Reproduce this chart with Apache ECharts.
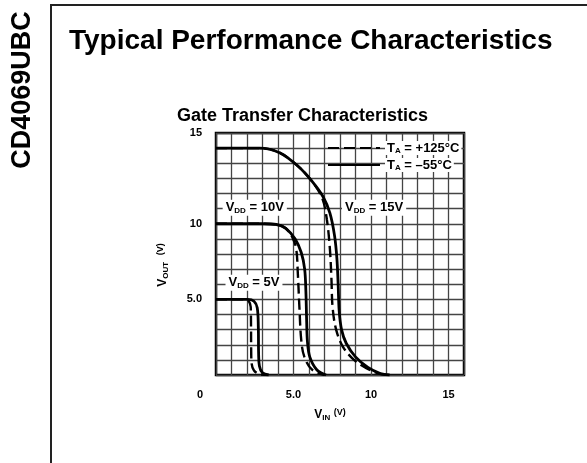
<!DOCTYPE html>
<html><head><meta charset="utf-8">
<script src="https://cdn.jsdelivr.net/npm/echarts@6.0.0/dist/echarts.min.js"></script>
<style>html,body{margin:0;background:#fff}#c{width:587px;height:463px}</style>
</head><body><div id="c"></div>
<script>
// [V_IN, V_OUT]
const vdd5Hot = [[0, 5], [1.9, 5], [2.12, 4.88], [2.24, 4.5], [2.26, 3.2], [2.27, 1.6], [2.3, 0.75], [2.45, 0.3], [2.8, 0.06], [3.3, 0]]
const vdd5Cold = [[0, 5], [2.05, 5], [2.45, 4.88], [2.66, 4.45], [2.73, 3.2], [2.75, 1.4], [2.8, 0.6], [3.0, 0.15], [3.4, 0]]
const vdd10Hot = [[0, 10], [3.0, 10], [3.9, 9.95], [4.5, 9.7], [4.95, 9.05], [5.18, 8.3], [5.28, 6.7], [5.38, 4.5], [5.5, 2.3], [5.7, 1.2], [6.2, 0.35], [7.0, 0]]
const vdd10Cold = [[0, 10], [3.0, 10], [3.9, 9.95], [4.5, 9.7], [5.1, 9.0], [5.5, 8.1], [5.72, 7.0], [5.8, 5.5], [5.85, 3.5], [5.9, 2.2], [6.05, 1.2], [6.5, 0.35], [7.1, 0]]
const vdd15Hot = [[0, 15], [2.8, 15], [4.1, 14.7], [5.3, 13.8], [6.2, 12.8], [6.85, 11.7], [7.15, 10.3], [7.35, 8.3], [7.45, 6.3], [7.52, 4.5], [7.75, 3.0], [8.2, 1.85], [8.9, 1.0], [9.7, 0.45], [10.5, 0.1], [11.1, 0]]
const vdd15Cold = [[0, 15], [2.8, 15], [4.1, 14.7], [5.3, 13.8], [6.2, 12.8], [6.9, 11.8], [7.35, 10.7], [7.65, 9.2], [7.8, 7.7], [7.88, 6.0], [7.95, 4.2], [8.1, 3.0], [8.4, 2.1], [9.0, 1.2], [9.8, 0.5], [10.6, 0.1], [11.2, 0]]
const vddTags = [['V{s|DD} = 5V', 2.45, 6.1], ['V{s|DD} = 10V', 2.5, 11.05], ['V{s|DD} = 15V', 10.2, 11.05]]
const HOT = 'T{s|A} = +125°C', COLD = 'T{s|A} = –55°C'

const SANS = '"Liberation Sans", Arial, sans-serif'
const NARROW = '"Liberation Sans Narrow", "Liberation Sans", Arial, sans-serif'
const sub = { fontSize: 8, fontWeight: 'bold', fontFamily: NARROW, padding: [6, 0, 0, 0] }
const txt = { fontSize: 13, fontWeight: 'bold', fontFamily: NARROW, color: '#000' }

const curve = (name, data, dashed) => ({
  name, type: 'line', data, symbol: 'none', smooth: 0.35, silent: true,
  lineStyle: { color: '#000', width: dashed ? 2.4 : 2.8, type: dashed ? [11, 5] : 'solid' },
  itemStyle: { color: '#000' }, z: dashed ? 2 : 3,
})

const labels = curve(COLD, [], false)
labels.markPoint = {
  symbolSize: 0, silent: true,
  data: vddTags.map(([t, x, y]) => ({
    coord: [x, y],
    label: { show: true, position: 'inside', formatter: t, ...txt, backgroundColor: '#fff', padding: [1, 3], rich: { s: sub } },
  })),
}

const chart = echarts.init(document.getElementById('c'), null, { renderer: 'canvas' })
chart.setOption({
  animation: false,
  backgroundColor: '#fff',
  title: [
    { text: 'Typical Performance Characteristics', left: 64, top: 22, textStyle: { fontSize: 28, fontWeight: 'bold', fontFamily: SANS, color: '#000' } },
    { text: 'Gate Transfer Characteristics', left: 172, top: 102, textStyle: { fontSize: 18, fontWeight: 'bold', fontFamily: SANS, color: '#000' } },
  ],
  graphic: [
    { type: 'polyline', shape: { points: [[51, 463], [51, 5], [587, 5]] }, style: { stroke: '#222', lineWidth: 2, fill: null } },
    { type: 'text', x: 23, y: 90, rotation: Math.PI / 2, style: { text: 'CD4069UBC', fontSize: 27, fontWeight: 'bold', fontFamily: SANS, fill: '#000', align: 'center', verticalAlign: 'middle' } },
  ],
  legend: {
    data: [HOT, COLD], orient: 'vertical', left: 327, top: 141, itemWidth: 52, itemHeight: 12, itemGap: 3, padding: 0,
    selectedMode: false, itemStyle: { opacity: 0 },
    textStyle: { ...txt, backgroundColor: '#fff', padding: [0, 2], rich: { s: sub } },
  },
  grid: { left: 216, top: 133, width: 248, height: 242, show: true, borderColor: '#000', borderWidth: 2.5, containLabel: false },
  xAxis: {
    type: 'value', min: 0, max: 16, interval: 1,
    axisLine: { show: false }, axisTick: { show: false },
    splitLine: { lineStyle: { color: '#444', width: 1.3 } },
    axisLabel: {
      margin: 14, ...txt, fontSize: 11, rich: { z: { ...txt, fontSize: 11, padding: [0, 32, 0, 0] } },
      formatter: (v) => v === 0 ? '{z|0}' : v === 5 ? '5.0' : v % 5 === 0 ? String(v) : '',
    },
    name: 'V{s|IN} {u|(V)}', nameLocation: 'middle', nameGap: 33,
    nameTextStyle: { ...txt, fontSize: 12, padding: [0, 20, 0, 0], rich: { s: sub, u: { ...txt, fontSize: 9, padding: [0, 0, 4, 0] } } },
  },
  yAxis: {
    type: 'value', min: 0, max: 16, interval: 1,
    axisLine: { show: false }, axisTick: { show: false },
    splitLine: { lineStyle: { color: '#444', width: 1.3 } },
    axisLabel: {
      margin: 14, ...txt, fontSize: 11, padding: [4, 0, 0, 0],
      formatter: (v) => v === 16 ? '15' : v === 10 ? '10' : v === 5 ? '5.0' : '',
    },
    name: 'V{s|OUT}  {u|(V)}', nameLocation: 'middle', nameGap: 46, nameRotate: 90,
    nameTextStyle: { ...txt, fontSize: 12, padding: [0, 22, 0, 0], rich: { s: sub, u: { ...txt, fontSize: 9, padding: [0, 0, 4, 0] } } },
  },
  series: [
    curve(HOT, vdd5Hot, true), curve(HOT, vdd10Hot, true), curve(HOT, vdd15Hot, true),
    curve(COLD, vdd5Cold, false), curve(COLD, vdd10Cold, false), curve(COLD, vdd15Cold, false),
    labels,
  ],
})
</script>
</body></html>
